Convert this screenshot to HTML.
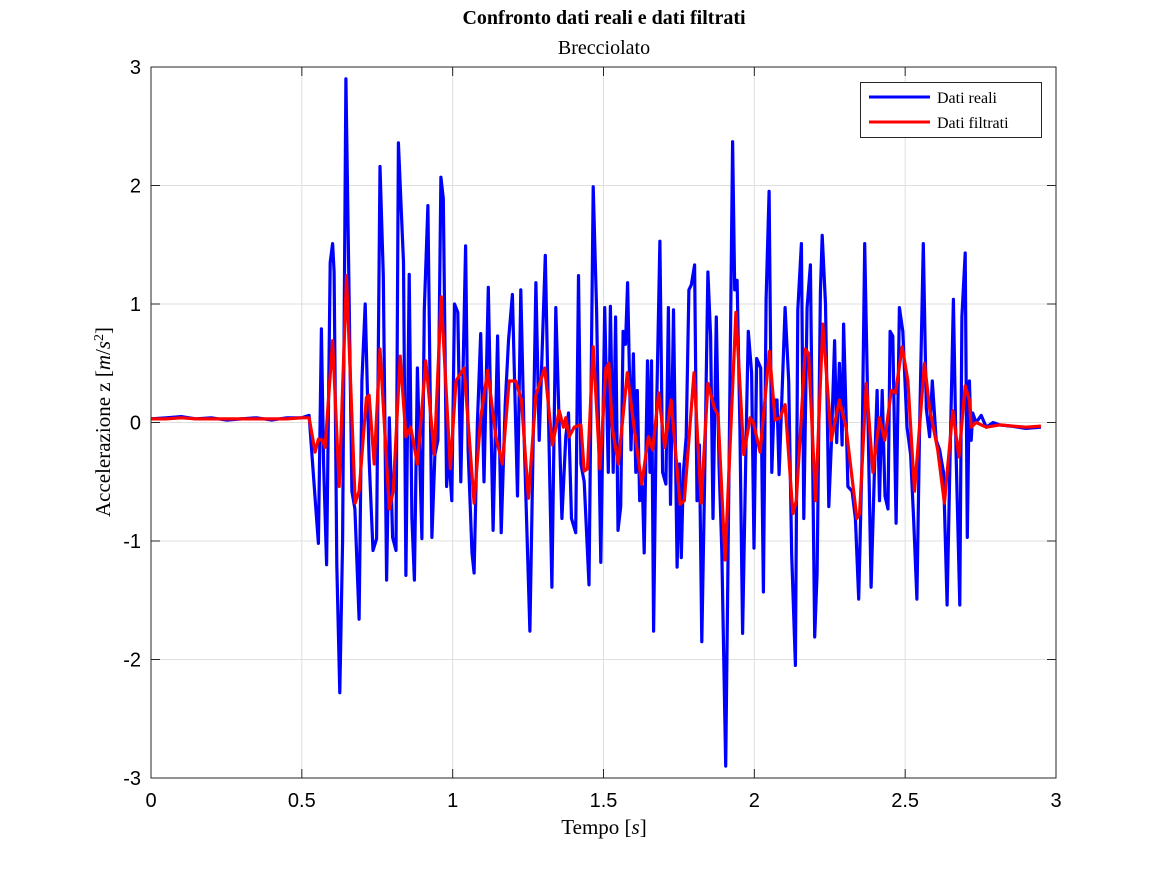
<!DOCTYPE html>
<html><head><meta charset="utf-8"><style>
html,body{margin:0;padding:0;background:#fff;}
svg{display:block;}
</style></head><body>
<svg id="chart" width="1167" height="875" viewBox="0 0 1167 875" xmlns="http://www.w3.org/2000/svg">
<rect x="0" y="0" width="1167" height="875" fill="#fff"/>
<rect x="151" y="67" width="905" height="711" fill="#fff"/>
<g id="grid"></g>
<g id="series"></g>
<rect x="151" y="67" width="905" height="711" fill="none" stroke="#262626" stroke-width="1"/>
<g id="ticks"></g>
<text x="604" y="24" text-anchor="middle" font-family="Liberation Serif, serif" font-weight="bold" font-size="20" fill="#000">Confronto dati reali e dati filtrati</text>
<text x="604" y="54" text-anchor="middle" font-family="Liberation Serif, serif" font-size="20" fill="#000">Brecciolato</text>
<text x="604" y="834" text-anchor="middle" font-family="Liberation Serif, serif" font-size="21" fill="#000">Tempo [<tspan font-style="italic">s</tspan>]</text>
<text transform="translate(110,422) rotate(-90)" text-anchor="middle" font-family="Liberation Serif, serif" font-size="21" fill="#000">Accelerazione z [<tspan font-style="italic">m</tspan>/<tspan font-style="italic">s</tspan><tspan baseline-shift="super" font-size="14">2</tspan>]</text>
<g>
<rect x="860.5" y="82.5" width="181" height="55" fill="#fff" stroke="#262626" stroke-width="1"/>
<g>
<line x1="869" y1="97" x2="930" y2="97" stroke="#0000ff" stroke-width="3"/>
<text x="937" y="103" font-family="Liberation Serif, serif" font-size="16" fill="#000">Dati reali</text>
</g>
<g>
<line x1="869" y1="122" x2="930" y2="122" stroke="#ff0000" stroke-width="3"/>
<text x="937" y="128" font-family="Liberation Serif, serif" font-size="16" fill="#000">Dati filtrati</text>
</g>
</g>
</svg>
<script>
const xTicks = [0, 0.5, 1, 1.5, 2, 2.5, 3];
const xTickLabels = ["0", "0.5", "1", "1.5", "2", "2.5", "3"];
const yTicks = [-3, -2, -1, 0, 1, 2, 3];
const yTickLabels = ["-3", "-2", "-1", "0", "1", "2", "3"];
const realTime = [0,0.05,0.1,0.15,0.2,0.25,0.3,0.35,0.4,0.45,0.5,0.524,0.544,0.555,0.565,0.572,0.582,0.594,0.602,0.607,0.616,0.626,0.635,0.646,0.655,0.666,0.676,0.69,0.699,0.71,0.723,0.736,0.748,0.759,0.77,0.781,0.79,0.801,0.812,0.82,0.837,0.845,0.856,0.865,0.873,0.883,0.898,0.906,0.918,0.931,0.941,0.951,0.961,0.969,0.98,0.986,0.997,1.006,1.017,1.027,1.043,1.051,1.064,1.071,1.082,1.093,1.104,1.118,1.134,1.149,1.161,1.174,1.185,1.198,1.215,1.226,1.237,1.256,1.276,1.287,1.307,1.329,1.342,1.362,1.375,1.384,1.394,1.408,1.417,1.425,1.436,1.452,1.466,1.477,1.491,1.504,1.516,1.523,1.532,1.54,1.548,1.557,1.565,1.573,1.58,1.591,1.599,1.607,1.612,1.62,1.629,1.635,1.646,1.654,1.659,1.666,1.674,1.687,1.696,1.707,1.715,1.722,1.732,1.744,1.752,1.758,1.765,1.774,1.783,1.791,1.802,1.81,1.818,1.826,1.835,1.846,1.855,1.863,1.874,1.883,1.892,1.905,1.916,1.928,1.935,1.943,1.952,1.961,1.974,1.98,1.991,1.999,2.008,2.021,2.03,2.039,2.049,2.058,2.066,2.075,2.082,2.091,2.102,2.114,2.124,2.136,2.144,2.156,2.164,2.175,2.186,2.2,2.208,2.219,2.225,2.236,2.247,2.255,2.266,2.273,2.282,2.291,2.296,2.302,2.31,2.324,2.335,2.346,2.357,2.366,2.374,2.387,2.398,2.407,2.415,2.424,2.433,2.443,2.45,2.459,2.47,2.481,2.492,2.506,2.518,2.528,2.539,2.548,2.56,2.57,2.581,2.59,2.603,2.614,2.627,2.639,2.649,2.66,2.669,2.681,2.688,2.699,2.706,2.713,2.719,2.724,2.735,2.752,2.769,2.791,2.813,2.85,2.9,2.95];
const realValues = [0.03,0.04,0.05,0.03,0.04,0.02,0.03,0.04,0.02,0.04,0.04,0.06,-0.64,-1.02,0.79,-0.35,-1.2,1.35,1.51,1.27,-1.2,-2.28,-1.0,2.9,1.35,-0.58,-0.73,-1.66,0.35,1.0,-0.31,-1.08,-0.98,2.16,1.24,-1.33,0.04,-0.97,-1.08,2.36,1.35,-1.29,1.25,-0.81,-1.33,0.46,-0.98,0.95,1.83,-0.97,-0.27,-0.15,2.07,1.89,-0.54,-0.23,-0.66,1.0,0.93,-0.5,1.49,-0.23,-1.1,-1.27,0,0.75,-0.5,1.14,-0.91,0.73,-0.93,0.15,0.69,1.08,-0.62,1.12,-0.15,-1.76,1.18,-0.15,1.41,-1.39,0.97,-0.81,-0.12,0.08,-0.81,-0.93,1.24,-0.35,-0.5,-1.37,1.99,0.95,-1.18,0.97,-0.42,0.98,-0.42,0.89,-0.91,-0.71,0.77,0.66,1.18,-0.23,0.58,-0.42,0.27,-0.66,-0.54,-1.1,0.52,-0.42,0.52,-1.76,-0.15,1.53,-0.42,-0.52,0.97,-0.69,0.95,-1.22,-0.35,-1.14,-0.42,-0.12,1.12,1.16,1.33,-0.66,-0.19,-1.85,-0.5,1.27,0.73,-0.81,0.89,-0.35,-1.08,-2.9,-0.42,2.37,1.12,1.2,-0.04,-1.78,0.04,0.77,0.42,-1.06,0.54,0.46,-1.43,1.04,1.95,-0.42,0.19,0.19,-0.44,0.19,0.97,0.35,-1.12,-2.05,0.95,1.51,-0.81,0.97,1.33,-1.81,-1.27,1.1,1.58,1.0,-0.71,-0.19,0.69,-0.17,0.5,-0.19,0.83,0.27,-0.54,-0.58,-0.81,-1.49,-0.31,1.51,0.39,-1.39,-0.42,0.27,-0.66,0.27,-0.62,-0.73,0.77,0.73,-0.85,0.97,0.77,-0.04,-0.27,-0.81,-1.49,-0.04,1.51,0.12,-0.12,0.35,-0.15,-0.23,-0.42,-1.54,-0.27,1.04,-0.27,-1.54,0.89,1.43,-0.97,0.35,-0.15,0.08,0,0.06,-0.04,0,-0.02,-0.03,-0.05,-0.04];
const filtTime = [0,0.05,0.1,0.15,0.2,0.25,0.3,0.35,0.4,0.45,0.5,0.524,0.544,0.555,0.569,0.577,0.602,0.624,0.648,0.677,0.69,0.714,0.723,0.74,0.759,0.79,0.803,0.826,0.845,0.861,0.883,0.911,0.939,0.962,0.992,1.011,1.038,1.071,1.093,1.116,1.143,1.165,1.187,1.209,1.228,1.251,1.276,1.305,1.331,1.353,1.367,1.375,1.386,1.403,1.425,1.436,1.447,1.466,1.488,1.508,1.518,1.529,1.549,1.579,1.601,1.627,1.649,1.663,1.683,1.703,1.724,1.754,1.768,1.8,1.824,1.846,1.868,1.88,1.903,1.939,1.965,1.986,1.997,2.019,2.05,2.069,2.085,2.102,2.128,2.139,2.169,2.18,2.203,2.227,2.255,2.282,2.304,2.34,2.349,2.371,2.393,2.415,2.432,2.454,2.468,2.49,2.509,2.531,2.564,2.581,2.608,2.63,2.658,2.678,2.699,2.713,2.719,2.735,2.769,2.813,2.9,2.95];
const filtValues = [0.03,0.03,0.04,0.03,0.03,0.03,0.03,0.03,0.03,0.03,0.04,0.04,-0.25,-0.14,-0.15,-0.21,0.69,-0.54,1.24,-0.68,-0.58,0.21,0.23,-0.35,0.62,-0.73,-0.58,0.56,-0.12,-0.04,-0.35,0.52,-0.27,1.06,-0.39,0.35,0.46,-0.68,0.04,0.44,-0.12,-0.35,0.35,0.35,0.19,-0.64,0.23,0.46,-0.19,0.1,-0.04,0.04,-0.12,-0.04,-0.02,-0.41,-0.39,0.64,-0.39,0.46,0.5,-0.04,-0.35,0.42,-0.04,-0.52,-0.12,-0.23,0.25,-0.21,0.19,-0.69,-0.66,0.42,-0.68,0.33,0.12,0.06,-1.16,0.93,-0.27,0.04,0,-0.25,0.6,0.02,0.04,0.15,-0.77,-0.66,0.62,0.58,-0.66,0.83,-0.15,0.19,-0.04,-0.81,-0.77,0.33,-0.42,0.04,-0.15,0.27,0.25,0.64,0.35,-0.58,0.5,0.12,-0.23,-0.68,0.1,-0.29,0.31,0.19,-0.04,0,-0.04,-0.02,-0.04,-0.03];

const X0 = 151, X1 = 1056, Y0 = 778, Y1 = 67;
function xScale(t){ return X0 + (t - 0) / 3 * (X1 - X0); }
function yScale(v){ return Y0 - (v + 3) / 6 * (Y0 - Y1); }
const NS = "http://www.w3.org/2000/svg";
const grid = document.getElementById('grid');
const ticks = document.getElementById('ticks');
const series = document.getElementById('series');

xTicks.forEach((t, i) => {
  const x = xScale(t);
  if (i > 0 && i < xTicks.length - 1) {
    const g = document.createElementNS(NS, 'line');
    g.setAttribute('x1', x); g.setAttribute('x2', x); g.setAttribute('y1', Y1); g.setAttribute('y2', Y0);
    g.setAttribute('stroke', '#dfdfdf'); g.setAttribute('stroke-width', '1');
    
    
    grid.appendChild(g);
  }
  [[Y0, Y0 - 9], [Y1, Y1 + 9]].forEach(p => {
    const tk = document.createElementNS(NS, 'line');
    tk.setAttribute('x1', x); tk.setAttribute('x2', x); tk.setAttribute('y1', p[0]); tk.setAttribute('y2', p[1]);
    tk.setAttribute('stroke', '#262626'); tk.setAttribute('stroke-width', '1');
    
    
    ticks.appendChild(tk);
  });
  const lb = document.createElementNS(NS, 'text');
  lb.setAttribute('x', x); lb.setAttribute('y', Y0 + 29);
  lb.setAttribute('text-anchor', 'middle');
  lb.setAttribute('font-family', 'Liberation Sans, sans-serif'); lb.setAttribute('font-size', '20'); lb.setAttribute('fill', '#000');
  lb.textContent = xTickLabels[i];
  
  
  ticks.appendChild(lb);
});

yTicks.forEach((v, i) => {
  const y = yScale(v);
  if (i > 0 && i < yTicks.length - 1) {
    const g = document.createElementNS(NS, 'line');
    g.setAttribute('x1', X0); g.setAttribute('x2', X1); g.setAttribute('y1', y); g.setAttribute('y2', y);
    g.setAttribute('stroke', '#dfdfdf'); g.setAttribute('stroke-width', '1');
    
    
    grid.appendChild(g);
  }
  [[X0, X0 + 9], [X1, X1 - 9]].forEach(p => {
    const tk = document.createElementNS(NS, 'line');
    tk.setAttribute('x1', p[0]); tk.setAttribute('x2', p[1]); tk.setAttribute('y1', y); tk.setAttribute('y2', y);
    tk.setAttribute('stroke', '#262626'); tk.setAttribute('stroke-width', '1');
    
    
    ticks.appendChild(tk);
  });
  const lb = document.createElementNS(NS, 'text');
  lb.setAttribute('x', X0 - 10); lb.setAttribute('y', y + 7);
  lb.setAttribute('text-anchor', 'end');
  lb.setAttribute('font-family', 'Liberation Sans, sans-serif'); lb.setAttribute('font-size', '20'); lb.setAttribute('fill', '#000');
  lb.textContent = yTickLabels[i];
  
  
  ticks.appendChild(lb);
});

function drawLine(ts, vs, color, name) {
  const p = document.createElementNS(NS, 'polyline');
  p.setAttribute('points', ts.map((t, i) => xScale(t).toFixed(1) + ',' + yScale(vs[i]).toFixed(1)).join(' '));
  p.setAttribute('fill', 'none'); p.setAttribute('stroke', color); p.setAttribute('stroke-width', '3.2');
  p.setAttribute('stroke-linejoin', 'round');
  
  
  series.appendChild(p);
}
drawLine(realTime, realValues, '#0000ff', 'line-dati-reali');
drawLine(filtTime, filtValues, '#ff0000', 'line-dati-filtrati');
</script>
</body></html>
